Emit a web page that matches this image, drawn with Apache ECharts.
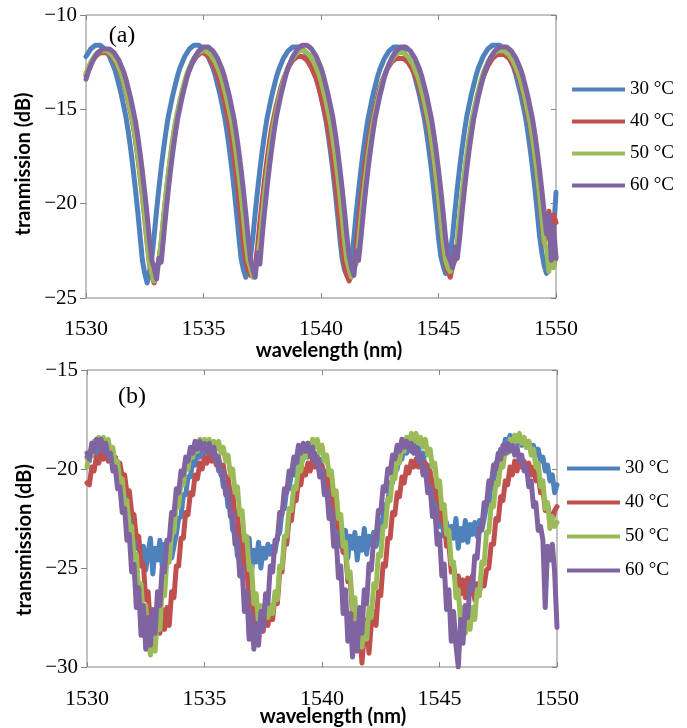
<!DOCTYPE html>
<html><head><meta charset="utf-8">
<script src="https://cdn.jsdelivr.net/npm/echarts/dist/echarts.min.js"></script>
<style>html,body{margin:0;padding:0;background:#fff}#c{width:687px;height:728px}</style>
</head><body><div id="c"></div>
<script>
// wavelength grid (nm)
const wavelength = [
1530,1530.1,1530.2,1530.3,1530.4,1530.5,1530.6,1530.7,1530.8,1530.9,
1531,1531.1,1531.2,1531.3,1531.4,1531.5,1531.6,1531.7,1531.8,1531.9,
1532,1532.1,1532.2,1532.3,1532.4,1532.5,1532.6,1532.7,1532.8,1532.9,
1533,1533.1,1533.2,1533.3,1533.4,1533.5,1533.6,1533.7,1533.8,1533.9,
1534,1534.1,1534.2,1534.3,1534.4,1534.5,1534.6,1534.7,1534.8,1534.9,
1535,1535.1,1535.2,1535.3,1535.4,1535.5,1535.6,1535.7,1535.8,1535.9,
1536,1536.1,1536.2,1536.3,1536.4,1536.5,1536.6,1536.7,1536.8,1536.9,
1537,1537.1,1537.2,1537.3,1537.4,1537.5,1537.6,1537.7,1537.8,1537.9,
1538,1538.1,1538.2,1538.3,1538.4,1538.5,1538.6,1538.7,1538.8,1538.9,
1539,1539.1,1539.2,1539.3,1539.4,1539.5,1539.6,1539.7,1539.8,1539.9,
1540,1540.1,1540.2,1540.3,1540.4,1540.5,1540.6,1540.7,1540.8,1540.9,
1541,1541.1,1541.2,1541.3,1541.4,1541.5,1541.6,1541.7,1541.8,1541.9,
1542,1542.1,1542.2,1542.3,1542.4,1542.5,1542.6,1542.7,1542.8,1542.9,
1543,1543.1,1543.2,1543.3,1543.4,1543.5,1543.6,1543.7,1543.8,1543.9,
1544,1544.1,1544.2,1544.3,1544.4,1544.5,1544.6,1544.7,1544.8,1544.9,
1545,1545.1,1545.2,1545.3,1545.4,1545.5,1545.6,1545.7,1545.8,1545.9,
1546,1546.1,1546.2,1546.3,1546.4,1546.5,1546.6,1546.7,1546.8,1546.9,
1547,1547.1,1547.2,1547.3,1547.4,1547.5,1547.6,1547.7,1547.8,1547.9,
1548,1548.1,1548.2,1548.3,1548.4,1548.5,1548.6,1548.7,1548.8,1548.9,
1549,1549.1,1549.2,1549.3,1549.4,1549.5,1549.6,1549.7,1549.8,1549.9,
1550];

const seriesNames = ['30 °C', '40 °C', '50 °C', '60 °C'];

// panel (a) transmission (dB)
const a30 = [
-12.2,-12.0,-11.8,-11.7,-11.6,-11.6,-11.6,-11.7,-11.8,-12.0,
-12.2,-12.5,-12.8,-13.2,-13.7,-14.2,-14.8,-15.4,-16.2,-17.1,
-18.1,-19.2,-20.4,-21.7,-23.0,-23.7,-24.2,-23.6,-22.9,-21.7,
-20.4,-19.2,-18.1,-17.1,-16.2,-15.4,-14.8,-14.2,-13.7,-13.2,
-12.8,-12.5,-12.2,-12.0,-11.8,-11.7,-11.6,-11.6,-11.6,-11.7,
-11.8,-12.0,-12.2,-12.5,-12.8,-13.2,-13.7,-14.2,-14.8,-15.4,
-16.2,-17.1,-18.1,-19.2,-20.4,-21.7,-22.9,-23.5,-23.9,-23.3,
-22.8,-21.8,-20.5,-19.3,-18.2,-17.2,-16.3,-15.5,-14.9,-14.3,
-13.8,-13.3,-12.9,-12.6,-12.3,-12.1,-11.9,-11.8,-11.7,-11.7,
-11.7,-11.7,-11.8,-11.9,-12.1,-12.3,-12.6,-12.9,-13.3,-13.8,
-14.3,-14.9,-15.5,-16.3,-17.2,-18.2,-19.3,-20.5,-21.8,-22.9,
-23.5,-23.8,-23.2,-22.9,-21.8,-20.5,-19.3,-18.2,-17.2,-16.3,
-15.5,-14.9,-14.3,-13.8,-13.3,-12.9,-12.6,-12.3,-12.1,-11.9,
-11.8,-11.7,-11.7,-11.7,-11.8,-11.9,-12.1,-12.3,-12.6,-12.9,
-13.3,-13.8,-14.3,-14.9,-15.5,-16.3,-17.2,-18.2,-19.3,-20.5,
-21.8,-22.8,-23.3,-23.7,-23.0,-22.6,-21.7,-20.4,-19.2,-18.1,
-17.1,-16.2,-15.4,-14.8,-14.2,-13.7,-13.2,-12.8,-12.5,-12.2,
-12.0,-11.8,-11.7,-11.6,-11.6,-11.6,-11.6,-11.7,-11.8,-12.0,
-12.2,-12.5,-12.8,-13.2,-13.7,-14.2,-14.8,-15.4,-16.2,-17.1,
-18.1,-19.2,-20.4,-21.7,-22.6,-23.3,-23.7,-22.4,-23.1,-21.5,
-19.4];
const a40 = [
-13.2,-12.9,-12.6,-12.4,-12.2,-12.1,-12.0,-12.0,-12.0,-12.0,
-12.1,-12.2,-12.4,-12.6,-12.9,-13.2,-13.6,-14.1,-14.6,-15.2,
-15.8,-16.6,-17.5,-18.5,-19.6,-20.8,-22.1,-23.2,-23.8,-24.2,
-23.6,-23.0,-22.1,-20.8,-19.6,-18.5,-17.5,-16.6,-15.8,-15.2,
-14.6,-14.1,-13.6,-13.2,-12.9,-12.6,-12.4,-12.2,-12.1,-12.0,
-12.0,-12.1,-12.2,-12.4,-12.6,-12.9,-13.2,-13.6,-14.1,-14.6,
-15.2,-15.8,-16.6,-17.5,-18.5,-19.6,-20.8,-22.1,-23.1,-23.5,
-23.8,-23.5,-23.3,-22.3,-21.0,-19.8,-18.7,-17.7,-16.8,-16.0,
-15.4,-14.8,-14.3,-13.8,-13.4,-13.1,-12.8,-12.6,-12.4,-12.3,
-12.2,-12.2,-12.2,-12.3,-12.4,-12.6,-12.8,-13.1,-13.4,-13.8,
-14.3,-14.8,-15.4,-16.0,-16.8,-17.7,-18.7,-19.8,-21.0,-22.3,
-23.3,-23.8,-24.1,-23.6,-23.4,-22.4,-21.1,-19.9,-18.8,-17.8,
-16.9,-16.1,-15.5,-14.9,-14.4,-13.9,-13.5,-13.2,-12.9,-12.7,
-12.5,-12.4,-12.3,-12.3,-12.3,-12.3,-12.4,-12.5,-12.7,-12.9,
-13.2,-13.5,-13.9,-14.4,-14.9,-15.5,-16.1,-16.9,-17.8,-18.8,
-19.9,-21.1,-22.4,-23.2,-23.6,-23.9,-23.3,-23.0,-22.2,-20.9,
-19.7,-18.6,-17.6,-16.7,-15.9,-15.3,-14.7,-14.2,-13.7,-13.3,
-13.0,-12.7,-12.5,-12.3,-12.2,-12.1,-12.1,-12.1,-12.1,-12.2,
-12.3,-12.5,-12.7,-13.0,-13.3,-13.7,-14.2,-14.7,-15.3,-15.9,
-16.7,-17.6,-18.6,-19.7,-20.9,-22.2,-21.5,-20.4,-22.8,-20.6,
-21.0];
const a50 = [
-13.1,-12.8,-12.5,-12.3,-12.1,-12.0,-11.9,-11.9,-11.9,-11.9,
-12.0,-12.1,-12.3,-12.5,-12.8,-13.1,-13.5,-14.0,-14.5,-15.1,
-15.7,-16.5,-17.4,-18.4,-19.5,-20.7,-22.0,-23.1,-23.7,-24.1,
-23.5,-23.1,-22.0,-20.7,-19.5,-18.4,-17.4,-16.5,-15.7,-15.1,
-14.5,-14.0,-13.5,-13.1,-12.8,-12.5,-12.3,-12.1,-12.0,-11.9,
-11.9,-11.9,-12.0,-12.1,-12.3,-12.5,-12.8,-13.1,-13.5,-14.0,
-14.5,-15.1,-15.7,-16.5,-17.4,-18.4,-19.5,-20.7,-22.0,-23.0,
-23.4,-23.9,-23.3,-23.0,-22.0,-20.7,-19.5,-18.4,-17.4,-16.5,
-15.7,-15.1,-14.5,-14.0,-13.5,-13.1,-12.8,-12.5,-12.3,-12.1,
-12.0,-11.9,-11.9,-11.9,-12.0,-12.1,-12.3,-12.5,-12.8,-13.1,
-13.5,-14.0,-14.5,-15.1,-15.7,-16.5,-17.4,-18.4,-19.5,-20.7,
-22.0,-23.0,-23.5,-23.9,-23.4,-23.2,-22.1,-20.8,-19.6,-18.5,
-17.5,-16.6,-15.8,-15.2,-14.6,-14.1,-13.6,-13.2,-12.9,-12.6,
-12.4,-12.2,-12.1,-12.0,-12.0,-12.0,-12.1,-12.2,-12.4,-12.6,
-12.9,-13.2,-13.6,-14.1,-14.6,-15.2,-15.8,-16.6,-17.5,-18.5,
-19.6,-20.8,-22.1,-23.0,-23.4,-23.6,-23.1,-22.9,-22.0,-20.7,
-19.5,-18.4,-17.4,-16.5,-15.7,-15.1,-14.5,-14.0,-13.5,-13.1,
-12.8,-12.5,-12.3,-12.1,-12.0,-11.9,-11.9,-11.9,-11.9,-12.0,
-12.1,-12.3,-12.5,-12.8,-13.1,-13.5,-14.0,-14.5,-15.1,-15.7,
-16.5,-17.4,-18.4,-19.5,-20.7,-22.0,-22.4,-23.6,-22.1,-23.4,
-22.8];
const a60 = [
-13.4,-13.0,-12.7,-12.4,-12.2,-12.0,-11.9,-11.8,-11.8,-11.8,
-11.8,-11.9,-12.0,-12.2,-12.4,-12.7,-13.0,-13.4,-13.9,-14.4,
-15.0,-15.6,-16.4,-17.3,-18.3,-19.4,-20.6,-21.9,-23.0,-23.4,
-24.0,-22.9,-23.1,-21.8,-20.5,-19.3,-18.2,-17.2,-16.3,-15.5,
-14.9,-14.3,-13.8,-13.3,-12.9,-12.6,-12.3,-12.1,-11.9,-11.8,
-11.7,-11.7,-11.7,-11.8,-11.9,-12.1,-12.3,-12.6,-12.9,-13.3,
-13.8,-14.3,-14.9,-15.5,-16.3,-17.2,-18.2,-19.3,-20.5,-21.8,
-23.0,-23.5,-23.9,-22.6,-23.2,-21.7,-20.4,-19.2,-18.1,-17.1,
-16.2,-15.4,-14.8,-14.2,-13.7,-13.2,-12.8,-12.5,-12.2,-12.0,
-11.8,-11.7,-11.6,-11.6,-11.6,-11.7,-11.8,-12.0,-12.2,-12.5,
-12.8,-13.2,-13.7,-14.2,-14.8,-15.4,-16.2,-17.1,-18.1,-19.2,
-20.4,-21.7,-22.8,-23.4,-23.8,-22.5,-23.0,-21.8,-20.5,-19.3,
-18.2,-17.2,-16.3,-15.5,-14.9,-14.3,-13.8,-13.3,-12.9,-12.6,
-12.3,-12.1,-11.9,-11.8,-11.7,-11.7,-11.7,-11.8,-11.9,-12.1,
-12.3,-12.6,-12.9,-13.3,-13.8,-14.3,-14.9,-15.5,-16.3,-17.2,
-18.2,-19.3,-20.5,-21.8,-22.7,-23.0,-23.4,-22.3,-22.9,-21.8,
-20.5,-19.3,-18.2,-17.2,-16.3,-15.5,-14.9,-14.3,-13.8,-13.3,
-12.9,-12.6,-12.3,-12.1,-11.9,-11.8,-11.7,-11.7,-11.7,-11.7,
-11.8,-11.9,-12.1,-12.3,-12.6,-12.9,-13.3,-13.8,-14.3,-14.9,
-15.5,-16.3,-17.2,-18.2,-19.3,-20.5,-21.6,-20.6,-23.0,-21.2,
-22.9];

// panel (b) transmission (dB)
const b30 = [
-19.4,-19.6,-18.9,-19.3,-18.8,-19.2,-18.9,-19.1,-18.8,-19.3,
-19.0,-19.6,-19.4,-20.1,-20.0,-20.9,-20.8,-21.9,-22.0,-23.1,
-23.2,-24.0,-23.6,-24.8,-23.9,-25.1,-24.2,-23.5,-25.3,-24.0,
-24.6,-23.6,-24.9,-23.8,-24.4,-23.7,-24.5,-23.9,-23.3,-22.5,
-22.4,-21.3,-21.3,-20.4,-20.4,-19.6,-19.8,-19.1,-19.4,-18.9,
-19.2,-18.9,-19.3,-19.0,-19.6,-19.3,-20.1,-19.9,-20.9,-20.8,
-21.9,-21.8,-23.1,-23.0,-24.4,-23.6,-24.9,-23.8,-24.6,-23.5,
-25.2,-24.1,-24.7,-23.7,-25.0,-24.0,-24.5,-23.8,-24.3,-23.9,
-24.2,-23.4,-23.2,-22.1,-22.0,-21.0,-21.0,-20.2,-20.3,-19.5,
-19.8,-19.2,-19.5,-19.0,-19.4,-19.0,-19.6,-19.2,-19.8,-19.5,
-20.3,-20.1,-20.5,-21.6,-21.4,-22.7,-22.6,-23.9,-23.3,-24.2,
-23.1,-24.5,-23.4,-24.0,-23.2,-24.6,-23.5,-24.1,-23.0,-24.3,
-23.4,-23.8,-23.2,-23.9,-23.5,-22.9,-22.4,-21.8,-21.7,-20.7,
-20.7,-19.8,-20.0,-19.2,-19.5,-18.8,-19.2,-18.7,-19.1,-18.6,
-19.2,-18.9,-19.5,-19.2,-20.0,-19.8,-20.8,-20.6,-21.8,-21.7,
-22.9,-22.6,-23.4,-22.7,-23.8,-22.9,-23.5,-22.5,-24.0,-23.0,
-23.6,-22.6,-23.7,-22.8,-23.3,-22.7,-23.4,-22.6,-23.1,-22.5,
-21.9,-21.8,-20.7,-20.7,-19.7,-19.9,-19.0,-19.2,-18.5,-18.8,
-18.3,-18.6,-18.3,-18.7,-18.4,-18.8,-18.5,-18.9,-18.6,-19.1,
-18.8,-19.3,-19.0,-19.6,-19.4,-20.1,-19.8,-20.6,-20.3,-21.2,
-20.8];
const b40 = [
-20.7,-20.8,-19.9,-20.1,-19.4,-19.7,-19.2,-19.5,-19.2,-19.6,
-19.3,-19.7,-19.4,-19.9,-19.7,-20.4,-20.3,-21.2,-21.1,-22.2,
-22.3,-23.5,-23.4,-24.9,-24.8,-26.6,-26.2,-27.9,-27.2,-28.0,
-27.4,-28.3,-27.1,-28.1,-27.0,-27.9,-26.2,-26.5,-24.9,-24.9,
-23.5,-23.5,-22.2,-22.3,-21.2,-21.3,-20.3,-20.5,-19.7,-20.0,
-19.4,-19.7,-19.3,-19.6,-19.3,-19.8,-19.5,-20.0,-19.8,-20.6,
-20.4,-21.3,-21.2,-22.4,-22.3,-23.6,-23.4,-25.0,-24.9,-26.7,
-26.3,-28.0,-27.2,-28.1,-27.3,-28.2,-27.0,-27.9,-27.1,-27.6,
-26.4,-26.8,-25.2,-25.2,-23.8,-23.8,-22.5,-22.6,-21.5,-21.6,
-20.6,-20.8,-20.0,-20.3,-19.7,-20.1,-19.5,-19.9,-19.6,-20.1,
-19.8,-20.4,-20.2,-21.0,-20.8,-21.9,-21.7,-23.0,-22.8,-24.2,
-24.1,-25.7,-25.6,-27.4,-27.0,-28.6,-27.9,-29.8,-28.4,-27.6,
-29.3,-27.8,-27.2,-27.9,-26.2,-26.4,-24.8,-24.9,-23.5,-23.5,
-22.2,-22.3,-21.2,-21.4,-20.4,-20.7,-19.9,-20.2,-19.6,-19.9,
-19.5,-19.9,-19.6,-20.1,-19.7,-20.3,-20.1,-20.9,-20.6,-21.6,
-21.5,-22.7,-22.5,-23.9,-23.8,-25.2,-24.9,-25.9,-25.4,-26.3,
-25.6,-26.5,-25.5,-26.3,-25.4,-26.6,-25.8,-26.2,-25.6,-25.9,
-25.1,-25.0,-23.8,-23.8,-22.5,-22.6,-21.4,-21.6,-20.6,-20.8,
-19.9,-20.3,-19.6,-20.1,-19.5,-19.9,-19.6,-20.0,-19.7,-20.3,
-19.9,-20.6,-20.3,-21.2,-21.0,-22.1,-21.8,-22.4,-22.6,-22.1,
-21.9];
const b50 = [
-19.9,-19.1,-19.3,-18.6,-18.9,-18.4,-18.7,-18.4,-18.8,-18.5,
-19.2,-18.9,-19.8,-19.6,-20.7,-20.5,-21.8,-21.6,-23.0,-22.9,
-24.5,-24.3,-26.2,-25.8,-27.6,-26.9,-28.7,-29.4,-28.0,-29.2,
-27.4,-28.1,-26.0,-26.4,-24.6,-24.7,-23.2,-23.2,-21.8,-21.9,
-20.7,-20.8,-19.8,-20.0,-19.1,-19.4,-18.7,-19.1,-18.5,-18.9,
-18.5,-18.9,-18.5,-18.9,-18.6,-19.0,-18.6,-19.2,-18.9,-19.6,
-19.3,-20.3,-20.0,-21.2,-20.9,-22.3,-22.1,-23.6,-23.4,-25.1,
-24.9,-26.8,-26.3,-27.8,-26.9,-27.6,-26.8,-27.5,-26.9,-27.3,
-26.2,-26.6,-24.9,-25.0,-23.4,-23.4,-22.0,-22.1,-20.9,-21.0,
-19.9,-20.1,-19.2,-19.4,-18.7,-19.0,-18.5,-18.9,-18.5,-19.2,
-18.8,-19.6,-19.3,-20.3,-20.1,-21.3,-21.1,-22.5,-22.3,-23.9,
-23.7,-25.5,-25.2,-27.1,-26.5,-28.4,-27.5,-29.0,-27.8,-28.6,
-27.0,-27.5,-25.8,-26.0,-24.3,-24.4,-22.9,-22.9,-21.5,-21.6,
-20.4,-20.5,-19.5,-19.7,-18.8,-19.1,-18.4,-18.8,-18.2,-18.6,
-18.2,-18.7,-18.4,-18.9,-18.5,-19.3,-19.0,-19.9,-19.7,-20.9,
-20.6,-22.0,-21.8,-23.3,-23.1,-24.8,-24.7,-26.5,-26.1,-27.8,
-27.0,-28.3,-27.4,-28.1,-27.0,-27.6,-26.1,-26.4,-24.7,-24.8,
-23.2,-23.2,-21.8,-21.9,-20.7,-20.8,-19.7,-19.9,-19.0,-19.2,
-18.5,-18.8,-18.3,-18.6,-18.2,-18.7,-18.4,-18.9,-18.6,-19.3,
-19.0,-19.9,-19.7,-20.9,-20.6,-22.0,-21.7,-23.0,-22.4,-22.9,
-22.7];
const b60 = [
-19.2,-19.5,-18.7,-19.1,-18.5,-18.9,-18.5,-19.1,-18.7,-19.4,
-19.2,-20.1,-19.9,-21.0,-20.9,-22.2,-22.0,-23.6,-23.3,-25.2,
-24.8,-27.0,-26.0,-28.4,-26.9,-29.1,-27.5,-28.9,-27.1,-28.3,
-26.2,-26.9,-25.0,-25.2,-23.6,-23.6,-22.2,-22.3,-21.0,-21.2,
-20.1,-20.3,-19.4,-19.6,-18.9,-19.2,-18.6,-19.0,-18.6,-19.0,
-18.7,-19.1,-18.7,-19.3,-18.9,-19.7,-19.4,-20.3,-20.1,-21.3,
-21.0,-22.4,-22.2,-23.8,-23.5,-25.4,-25.0,-27.2,-26.2,-28.6,
-27.3,-29.1,-27.8,-28.9,-27.2,-28.1,-26.3,-26.8,-24.9,-25.2,
-23.6,-23.6,-22.2,-22.3,-21.0,-21.2,-20.1,-20.3,-19.4,-19.6,
-18.8,-19.2,-18.7,-19.1,-18.7,-19.3,-18.9,-19.7,-19.4,-20.4,
-20.0,-21.3,-21.0,-22.5,-22.1,-23.9,-23.4,-25.5,-24.9,-27.3,
-26.1,-28.7,-27.3,-29.5,-27.8,-29.2,-27.0,-28.3,-26.1,-26.8,
-24.8,-25.1,-23.5,-23.5,-22.1,-22.2,-20.9,-21.1,-20.0,-20.2,
-19.3,-19.5,-18.8,-19.1,-18.5,-18.9,-18.6,-19.0,-18.7,-19.2,
-18.9,-19.6,-19.3,-20.3,-20.0,-21.2,-20.9,-22.4,-22.0,-23.8,
-23.3,-25.4,-24.8,-27.1,-26.1,-28.7,-27.2,-28.9,-30.0,-27.6,
-28.8,-26.9,-27.5,-25.8,-26.1,-24.4,-24.5,-23.0,-23.0,-21.7,
-21.8,-20.6,-20.8,-19.8,-20.0,-19.2,-19.5,-18.8,-19.2,-18.7,
-19.1,-18.8,-19.3,-18.9,-19.6,-19.3,-20.1,-19.9,-20.9,-20.6,
-21.9,-21.7,-23.1,-22.9,-23.6,-27.0,-23.9,-24.6,-23.8,-25.2,
-28.0];

const colors = ['#4F81BD', '#C0504D', '#9BBB59', '#8064A2'];
const serif = '"Liberation Serif", "Times New Roman", serif';
const sans = 'Lato, "Open Sans", sans-serif';
const frame = '#868686';

function pair(ys) { return wavelength.map((x, i) => [x, ys[i]]); }

function xAx(grid, top, margin) {
  return {
    gridIndex: grid, type: 'value', min: 1530, max: 1550, interval: 5,
    position: top ? 'top' : 'bottom',
    axisLine: { show: false },
    axisTick: { show: true, inside: true, length: 5, lineStyle: { color: frame } },
    splitLine: { show: false },
    axisLabel: top ? { show: false } : {
      show: true, margin: margin, fontFamily: serif, fontSize: 22, color: '#000',
      formatter: v => String(v)
    }
  };
}
function yAx(grid, min, max, right) {
  return {
    gridIndex: grid, type: 'value', min: min, max: max, interval: 5,
    position: right ? 'right' : 'left',
    axisLine: { show: false },
    axisTick: { show: true, inside: !!right, length: right ? 5 : 6, lineStyle: { color: frame } },
    splitLine: { show: false },
    axisLabel: right ? { show: false } : {
      show: true, margin: 9, fontFamily: serif, fontSize: 21, color: '#000',
      formatter: v => (v < 0 ? '\u2212' + Math.abs(v) : String(v))
    }
  };
}

const sets = [[a30, a40, a50, a60], [b30, b40, b50, b60]];
const series = [];
sets.forEach((arrs, g) => {
  arrs.forEach((ys, k) => {
    series.push({
      name: seriesNames[k], type: 'line', xAxisIndex: g * 2, yAxisIndex: g * 2,
      data: pair(ys), showSymbol: false, symbol: 'none', smooth: false,
      color: colors[k],
      lineStyle: { width: 5, color: colors[k], join: 'round', cap: 'round' },
      emphasis: { disabled: true }, silent: true, animation: false
    });
  });
});

function legend(left, top, gap) {
  return {
    data: seriesNames, orient: 'vertical', left: left, top: top, icon: 'rect',
    itemWidth: 53, itemHeight: 4, itemGap: gap, selectedMode: false,
    textStyle: { fontFamily: serif, fontSize: 19, color: '#000', lineHeight: 19 }
  };
}

function txt(x, y, text, font, rot) {
  return {
    type: 'text', x: x, y: y, rotation: rot || 0, silent: true,
    style: { text: text, font: font, fill: '#000', align: 'center', verticalAlign: 'middle',
             textAlign: 'center', textVerticalAlign: 'middle' }
  };
}

const chart = echarts.init(document.getElementById('c'), null, { renderer: 'canvas' });
chart.setOption({
  animation: false,
  backgroundColor: '#fff',
  grid: [
    { left: 86, top: 15, width: 470, height: 283, show: true, borderColor: frame, borderWidth: 1, backgroundColor: 'transparent' },
    { left: 87, top: 370, width: 470, height: 297, show: true, borderColor: frame, borderWidth: 1, backgroundColor: 'transparent' }
  ],
  xAxis: [xAx(0, false, 20), xAx(0, true), xAx(1, false, 21), xAx(1, true)],
  yAxis: [yAx(0, -25, -10, false), yAx(0, -25, -10, true), yAx(1, -30, -15, false), yAx(1, -30, -15, true)],
  legend: [legend(567, 75, 13), legend(562, 454, 15)],
  series: series,
  graphic: [
    txt(24, 164, 'tranmission (dB)', 'bold 20px ' + sans, Math.PI / 2),
    txt(25, 540, 'transmission (dB)', 'bold 20px ' + sans, Math.PI / 2),
    txt(329, 351, 'wavelength (nm)', 'bold 20px ' + sans),
    txt(333, 717, 'wavelength (nm)', 'bold 20px ' + sans),
    txt(122, 36, '(a)', '24px ' + serif),
    txt(132, 397, '(b)', '24px ' + serif)
  ]
});
</script>
</body></html>
